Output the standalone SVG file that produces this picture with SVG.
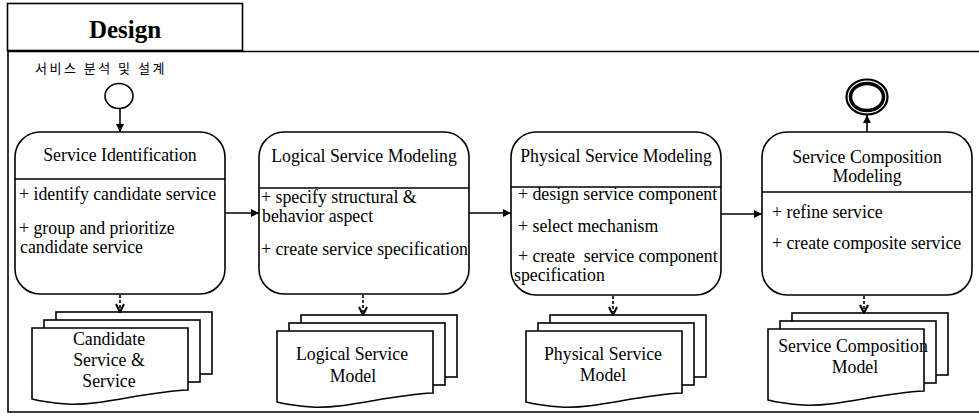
<svg xmlns="http://www.w3.org/2000/svg" xmlns:xlink="http://www.w3.org/1999/xlink" width="979" height="416" viewBox="0 0 979 416">
<style>
.ln{fill:none;stroke:#000;stroke-width:1.6}
.box{fill:#fff;stroke:#000;stroke-width:1.6}
.t{font-family:"Liberation Serif","Times New Roman",serif;font-size:17.8px;fill:#000}
.c{text-anchor:middle}
.dash{fill:none;stroke:#000;stroke-width:1.6;stroke-dasharray:3 2}
</style>
<defs>
<marker id="solid" markerUnits="userSpaceOnUse" viewBox="0 0 10 10" refX="10" refY="5" markerWidth="9" markerHeight="8" orient="auto">
<path d="M0,0 L10,5 L0,10 z" fill="#000"/>
</marker>
<marker id="open" markerUnits="userSpaceOnUse" viewBox="0 0 10 10" refX="9" refY="5" markerWidth="10" markerHeight="10" orient="auto">
<path d="M1,1 L9,5 L1,9" fill="none" stroke="#000" stroke-width="2"/>
</marker>
<g id="doc">
<rect x="24" y="-16" width="156" height="62" class="box"/>
<rect x="12" y="-8" width="156" height="62" class="box"/>
<path d="M0,0 H156 V62 C110,64 70,78 35,76 C20,75 8,73 0,71 Z" class="box"/>
</g>
</defs>

<g id="frame">
<rect x="7.5" y="3.5" width="235" height="47" class="ln"/>
<text x="125" y="38" font-family="Liberation Serif, Times New Roman, serif" font-size="25" font-weight="bold" text-anchor="middle">Design</text>
<path d="M985,51.5 H8 V412 H985" class="ln"/>
<text x="35" y="73" font-family="Noto Sans CJK KR, sans-serif" font-size="13" letter-spacing="2.5">서비스 분석 및 설계</text>
</g>

<g id="start">
<ellipse cx="119" cy="96" rx="14" ry="12.5" class="ln"/>
</g>
<g id="end">
<ellipse cx="867" cy="97" rx="20.5" ry="17.5" fill="none" stroke="#000" stroke-width="2.2"/>
<ellipse cx="867" cy="97" rx="16.5" ry="13.5" fill="none" stroke="#000" stroke-width="3.5"/>
</g>

<g id="n1">
<rect x="15" y="132" width="210" height="162" rx="25" ry="25" class="box"/>
<line x1="15" y1="179" x2="225" y2="179" class="ln"/>
<text x="120" y="161" class="t c">Service Identification</text>
<text x="19" y="200" class="t">+ identify candidate service</text>
<text x="19" y="234" class="t">+ group and prioritize</text>
<text x="20" y="253" class="t">candidate service</text>
</g>

<g id="n2">
<rect x="259" y="132" width="210" height="162" rx="25" ry="25" class="box"/>
<line x1="259" y1="188" x2="469" y2="188" class="ln"/>
<text x="364" y="162" class="t c">Logical Service Modeling</text>
<text x="261" y="203" class="t">+ specify structural &amp;</text>
<text x="262" y="222" class="t">behavior aspect</text>
<text x="261" y="255" class="t">+ create service specification</text>
</g>

<g id="n3">
<rect x="511" y="132" width="210" height="163" rx="25" ry="25" class="box"/>
<line x1="511" y1="187" x2="721" y2="187" class="ln"/>
<text x="616" y="162" class="t c">Physical Service Modeling</text>
<text x="518" y="200" class="t">+ design service component</text>
<text x="518" y="232" class="t">+ select mechanism</text>
<text x="518" y="262" class="t" xml:space="preserve">+ create  service component</text>
<text x="514" y="281" class="t">specification</text>
</g>

<g id="n4">
<rect x="762" y="132" width="210" height="163" rx="25" ry="25" class="box"/>
<line x1="762" y1="192" x2="972" y2="192" class="ln"/>
<text x="867" y="163" class="t c">Service Composition</text>
<text x="867" y="182" class="t c">Modeling</text>
<text x="772" y="218" class="t">+ refine service</text>
<text x="772" y="249" class="t">+ create composite service</text>
</g>

<g id="d1">
<use xlink:href="#doc" href="#doc" x="32" y="328"/>
<text x="109" y="345" class="t c">Candidate</text>
<text x="109" y="366" class="t c">Service &amp;</text>
<text x="109" y="387" class="t c">Service</text>
</g>
<g id="d2">
<use xlink:href="#doc" href="#doc" x="277" y="331"/>
<text x="352" y="360" class="t c">Logical Service</text>
<text x="353" y="382" class="t c">Model</text>
</g>
<g id="d3">
<use xlink:href="#doc" href="#doc" x="526" y="331"/>
<text x="603" y="360" class="t c">Physical Service</text>
<text x="603" y="381" class="t c">Model</text>
</g>
<g id="d4">
<use xlink:href="#doc" href="#doc" x="768" y="329"/>
<text x="853" y="352" class="t c">Service Composition</text>
<text x="855" y="373" class="t c">Model</text>
</g>

<g id="connectors">
<line x1="120" y1="108.5" x2="120" y2="132" class="ln" marker-end="url(#solid)"/>
<line x1="867" y1="132" x2="867" y2="115" class="ln" marker-end="url(#solid)"/>
<line x1="225" y1="213" x2="259" y2="213" class="ln" marker-end="url(#solid)"/>
<line x1="469" y1="213" x2="511" y2="213" class="ln" marker-end="url(#solid)"/>
<line x1="721" y1="214" x2="762" y2="214" class="ln" marker-end="url(#solid)"/>
<line x1="120" y1="295" x2="120" y2="312" class="dash" marker-end="url(#open)"/>
<line x1="363" y1="295" x2="363" y2="315" class="dash" marker-end="url(#open)"/>
<line x1="613" y1="296" x2="613" y2="315" class="dash" marker-end="url(#open)"/>
<line x1="864" y1="296" x2="864" y2="313" class="dash" marker-end="url(#open)"/>
</g>
</svg>
